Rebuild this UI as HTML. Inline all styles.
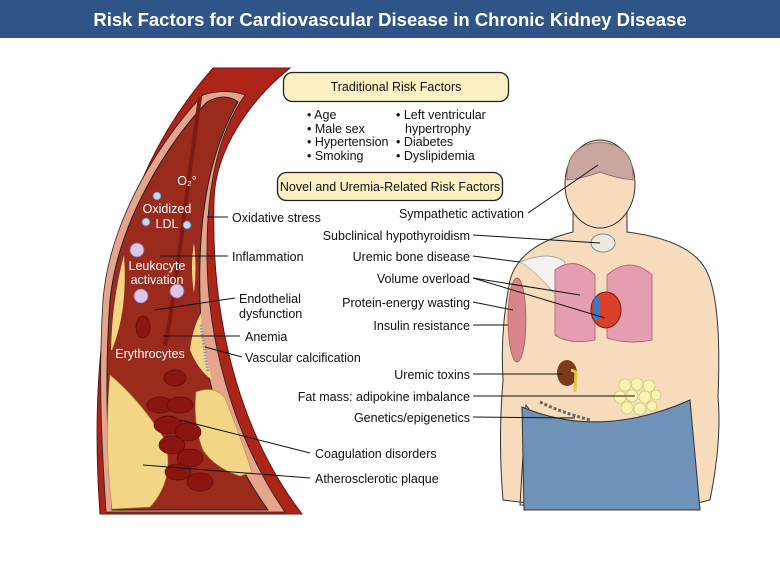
<!DOCTYPE html>
<html><head><meta charset="utf-8"><style>
html,body{margin:0;padding:0;background:#fff}
svg{display:block}
text{font-family:"Liberation Sans",Arial,sans-serif;font-size:12.5px;fill:#111}
.w{fill:#fff}
</style></head><body>
<svg width="780" height="579" viewBox="0 0 780 579" xmlns="http://www.w3.org/2000/svg">
<rect x="0" y="0" width="780" height="38" fill="#2f5487"/>
<text x="390" y="26" text-anchor="middle" style="font-size:18.5px;font-weight:bold;fill:#fff">Risk Factors for Cardiovascular Disease in Chronic Kidney Disease</text>

<!-- artery -->
<path d="M213,68 C150,140 82,260 100,514 L302,514 C245,440 210,330 214,200 C215,150 250,100 290,68 Z" fill="#ad2418" stroke="#6b120c" stroke-width="1"/>
<path d="M203,95 C165,135 110,215 103,300 C98,380 102,450 106,512 L285,512 C235,440 206,340 207,250 C207,180 220,130 245,95 Q225,88 203,95Z" fill="#e6a48c" stroke="#222" stroke-width="0.8"/>
<path d="M207,102 C170,140 118,220 110,300 C104,380 108,450 112,510 L268,510 C225,450 202,380 200,300 C198,230 205,160 238,102 Q225,92 207,102Z" fill="#9a2a1c" stroke="#222" stroke-width="1"/>
<path d="M200,97 C185,200 175,300 165,345" stroke="#7d1a12" stroke-width="4" fill="none"/>
<!-- plaques -->
<path d="M112,350 Q128,310 124,255 Q112,300 111,350Z" fill="#f2d585"/>
<path d="M110,375 Q140,400 165,440 Q175,480 150,507 L112,509 Q104,440 110,375Z" fill="#f2d585" stroke="#b89030" stroke-width="0.6"/>
<path d="M194,243 Q190,268 194,293 Q197,268 194,243Z" fill="#f2d585"/>
<path d="M201,313 Q192,330 190,350 Q198,370 212,380 Q203,345 201,313Z" fill="#f2d585"/>
<path d="M196,392 Q215,385 225,398 Q238,430 252,472 L240,476 Q215,468 203,450 Q193,425 196,392Z" fill="#f2d585" stroke="#b89030" stroke-width="0.6"/>
<path d="M201,325 L208,372" stroke="#8a90b8" stroke-width="3" stroke-dasharray="1.5 1.5"/>
<!-- blood cells -->
<g fill="#8a1511" stroke="#5d0c08" stroke-width="0.7">
<ellipse cx="160" cy="405" rx="13" ry="8"/><ellipse cx="180" cy="405" rx="13" ry="8"/>
<ellipse cx="168" cy="425" rx="14" ry="9"/><ellipse cx="188" cy="432" rx="13" ry="9"/><ellipse cx="172" cy="445" rx="13" ry="9"/>
<ellipse cx="190" cy="458" rx="13" ry="9"/><ellipse cx="178" cy="472" rx="13" ry="8"/><ellipse cx="200" cy="482" rx="13" ry="9"/>
<ellipse cx="143" cy="327" rx="7" ry="11"/><ellipse cx="175" cy="378" rx="11" ry="8"/>
</g>
<g fill="#c8d9ef" stroke="#4f7db8" stroke-width="0.8">
<circle cx="157" cy="196" r="4"/><circle cx="146" cy="222" r="4"/><circle cx="187" cy="225" r="4"/>
</g>
<g fill="#d9c6e8" stroke="#8b6aa8" stroke-width="0.8">
<circle cx="137" cy="250" r="7"/><circle cx="141" cy="296" r="7"/><circle cx="177" cy="291" r="7"/>
</g>
<text x="187" y="185" class="w" text-anchor="middle">O₂°</text>
<text x="167" y="213" class="w" text-anchor="middle">Oxidized</text>
<text x="167" y="228" class="w" text-anchor="middle">LDL</text>
<text x="157" y="270" class="w" text-anchor="middle">Leukocyte</text>
<text x="157" y="284" class="w" text-anchor="middle">activation</text>
<text x="150" y="358" class="w" text-anchor="middle">Erythrocytes</text>

<!-- body -->
<g stroke="#333" stroke-width="1">
<path d="M573,210 L573,232 Q520,245 510,280 Q500,330 503,380 Q498,440 503,500 L545,505 Q548,460 535,440 Q538,420 526,405 L520,505 L700,510 L690,420 Q680,440 675,460 Q665,480 690,505 L710,500 Q722,440 718,397 Q722,300 706,270 Q690,240 627,232 L627,210 Z" fill="#f6dcbd"/>
<ellipse cx="600" cy="184" rx="35" ry="44" fill="#f6dcbd"/>
<path d="M567,180 Q565,145 600,142 Q635,145 633,180 Q615,178 600,172 Q585,178 567,180Z" fill="#c9a7a0" stroke="#7d5f58" stroke-width="0.8"/>
<path d="M522,407 Q600,440 690,400 L700,510 L524,510 Z" fill="#6f93b8"/>
</g>
<ellipse cx="603" cy="243" rx="12" ry="9" fill="#ece9df" stroke="#888"/>
<path d="M520,262 Q550,250 565,262 L560,300 Q535,270 520,262Z" fill="#f4f1ee" stroke="#999" stroke-width="0.7"/>
<path d="M555,270 Q575,255 595,275 L595,340 Q570,345 555,335 Z" fill="#e49eb0" stroke="#a85a70" stroke-width="0.8"/>
<path d="M607,275 Q630,255 652,275 L652,340 Q630,345 607,338 Z" fill="#e49eb0" stroke="#a85a70" stroke-width="0.8"/>
<ellipse cx="606" cy="310" rx="15" ry="18" fill="#d9402a" stroke="#7b1c10"/>
<rect x="594" y="298" width="6" height="22" fill="#2f7dd0"/>
<ellipse cx="517" cy="320" rx="9" ry="42" fill="#d9838a" stroke="#a05058" stroke-width="0.7"/>
<ellipse cx="567" cy="373" rx="10" ry="13" fill="#7a3a1e"/>
<path d="M571,370 L576,372 L575,392" stroke="#e5c33e" stroke-width="3" fill="none"/>
<g fill="#f7f3b0" stroke="#c6bd60" stroke-width="0.6">
<circle cx="625" cy="385" r="6"/><circle cx="637" cy="384" r="6"/><circle cx="649" cy="386" r="6"/><circle cx="620" cy="397" r="6"/><circle cx="632" cy="396" r="6"/><circle cx="645" cy="397" r="6"/><circle cx="656" cy="395" r="5"/><circle cx="627" cy="408" r="6"/><circle cx="640" cy="409" r="6"/><circle cx="652" cy="406" r="5"/>
</g>
<path d="M540,402 Q560,412 590,420" stroke="#666" stroke-width="3" fill="none" stroke-dasharray="3 2"/>

<!-- boxes -->
<rect x="283.5" y="72.5" width="225" height="29" rx="9" fill="#fbf0c2" stroke="#222" stroke-width="1.3"/>
<text x="396" y="91" text-anchor="middle">Traditional Risk Factors</text>
<text x="307" y="119">• Age</text><text x="307" y="133">• Male sex</text><text x="307" y="146">• Hypertension</text><text x="307" y="160">• Smoking</text>
<text x="396" y="119">• Left ventricular</text><text x="405" y="133">hypertrophy</text><text x="396" y="146">• Diabetes</text><text x="396" y="160">• Dyslipidemia</text>
<rect x="277.5" y="172.5" width="225" height="28" rx="9" fill="#fbf0c2" stroke="#222" stroke-width="1.3"/>
<text x="390" y="191" text-anchor="middle">Novel and Uremia-Related Risk Factors</text>

<g stroke="#111" stroke-width="1" fill="none">
<path d="M207,217 H228"/><path d="M160,256 H228"/><path d="M155,310 L235,298"/><path d="M163,336 H240"/><path d="M205,347 L242,357"/>
<path d="M180,420 L310,453"/><path d="M143,465 L310,478"/>
<path d="M528,213 L598,165"/><path d="M473,235 L600,243"/><path d="M473,256 L520,262"/><path d="M473,278 L580,295"/><path d="M473,278 L605,318"/>
<path d="M473,302 L513,310"/><path d="M473,325 H508"/><path d="M473,374 H563"/><path d="M473,396 H635"/><path d="M473,417 L575,418"/>
</g>
<text x="232" y="222">Oxidative stress</text>
<text x="232" y="261">Inflammation</text>
<text x="239" y="303">Endothelial</text><text x="239" y="318">dysfunction</text>
<text x="245" y="341">Anemia</text>
<text x="245" y="362">Vascular calcification</text>
<text x="315" y="458">Coagulation disorders</text>
<text x="315" y="483">Atherosclerotic plaque</text>
<g text-anchor="end">
<text x="524" y="218">Sympathetic activation</text>
<text x="470" y="240">Subclinical hypothyroidism</text>
<text x="470" y="261">Uremic bone disease</text>
<text x="470" y="283">Volume overload</text>
<text x="470" y="307">Protein-energy wasting</text>
<text x="470" y="330">Insulin resistance</text>
<text x="470" y="379">Uremic toxins</text>
<text x="470" y="401">Fat mass: adipokine imbalance</text>
<text x="470" y="422">Genetics/epigenetics</text>
</g>
</svg>
</body></html>
